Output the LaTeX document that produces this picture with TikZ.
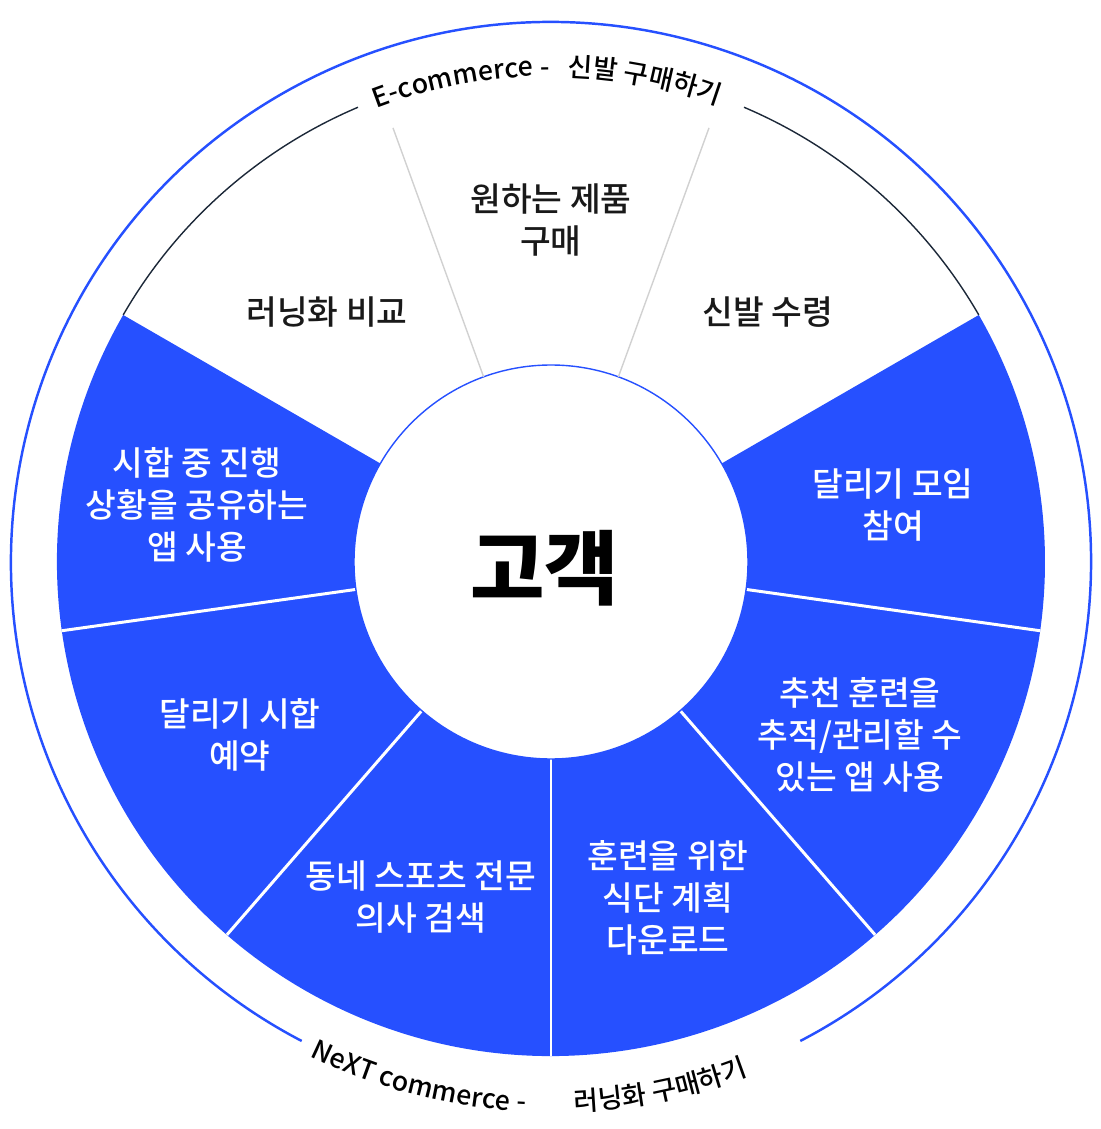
\documentclass[tikz,border=0pt]{standalone}
\usepackage{fontspec}
\setmainfont{Noto Sans CJK KR}
\newfontfamily\midfamily{Noto Sans CJK KR Medium}
\usetikzlibrary{decorations.text}
\definecolor{wheelblue}{RGB}{38,80,255}
\definecolor{rimdark}{RGB}{28,40,56}
\newcommand\arcfont{\midfamily\fontsize{15.2}{17}\selectfont}
\begin{document}
\begin{tikzpicture}[x=0.02cm,y=0.02cm,
        stagefont/.style={align=center,font=\midfamily\fontsize{19}{24}\selectfont},
        bluestage/.style={stagefont,text=white},
        whitestage/.style={stagefont,text=black!90},
        arctext/.style={decorate,decoration={text along path,text align=left,text={|\arcfont|#1}}}]
    \useasboundingbox (-551,-567) rectangle (550,562);
    \coordinate (O) at (0,0);

    \fill[wheelblue] (O) -- (150:494) arc[start angle=150,end angle=390,radius=494] -- cycle;
    \foreach \a in {188,229,270,311,352}
        \draw[white,line width=1.7pt] (O) -- (\a:494);
    \draw[fill=white,draw=wheelblue,line width=0.8pt] (O) circle[radius=197];
    \foreach \a in {70,110}
        \draw[black!18,line width=0.8pt] (\a:197) -- (\a:462);

    \draw[rimdark,line width=0.8pt] (150:494) arc[start angle=150,end angle=113,radius=494];
    \draw[rimdark,line width=0.8pt] (67:494) arc[start angle=67,end angle=30,radius=494];
    \draw[wheelblue,line width=1.4pt] (-62.5:540) arc[start angle=-62.5,end angle=242.5,radius=540];

    \path[arctext={E-commerce -}] (111:486) arc[start angle=111,end angle=80,radius=486];
    \path[arctext={신발 구매하기}] (88:486) arc[start angle=88,end angle=55,radius=486];
    \path[arctext={NeXT commerce -}] (-116:550) arc[start angle=-116,end angle=-80,radius=550];
    \path[arctext={러닝화 구매하기}] (-87.5:550) arc[start angle=-87.5,end angle=-55,radius=550];

    \node[whitestage] (buy) at (0,342) {원하는 제품\\구매};
    \node[whitestage] (compare) at (-224,250) {러닝화 비교};
    \node[whitestage] (receive) at (217,250) {신발 수령};
    \node[bluestage] (share) at (-354,57) {시합 중 진행\\상황을 공유하는\\앱 사용};
    \node[bluestage] (club) at (342,57) {달리기 모임\\참여};
    \node[bluestage] (race) at (-311,-173) {달리기 시합\\예약};
    \node[bluestage] (doctor) at (-130,-335) {동네 스포츠 전문\\의사 검색};
    \node[bluestage] (diet) at (117,-336) {훈련을 위한\\식단 계획\\다운로드};
    \node[bluestage] (track) at (309,-173) {추천 훈련을\\추적/관리할 수\\있는 앱 사용};
    \node[font=\fontsize{46}{54}\selectfont\bfseries] (customer) at (-6,-6) {고객};
\end{tikzpicture}
\end{document}
